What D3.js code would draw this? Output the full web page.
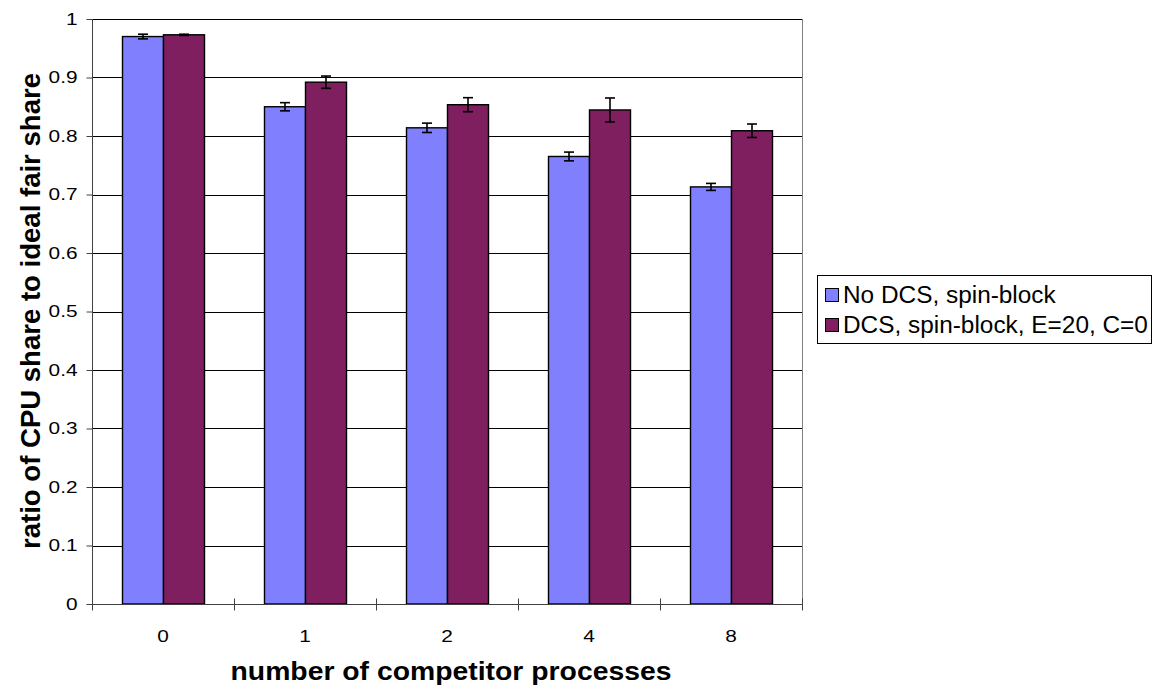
<!DOCTYPE html>
<html><head><meta charset="utf-8">
<script src="https://cdn.jsdelivr.net/npm/d3@7"></script>
<style>
html,body{margin:0;padding:0;background:#fff;}
svg{display:block;font-family:"Liberation Sans",Arial,sans-serif;}
</style></head>
<body>
<svg id="chart" width="1158" height="690"></svg>
<script>
const categories = ["0", "1", "2", "4", "8"];
const seriesNames = ["No DCS, spin-block", "DCS, spin-block, E=20, C=0"];
const noDcs = [0.970, 0.850, 0.814, 0.765, 0.713];
const noDcsErr = [0.004, 0.007, 0.008, 0.0075, 0.006];
const dcs = [0.973, 0.892, 0.8535, 0.8445, 0.809];
const dcsErr = [0.001, 0.0105, 0.012, 0.0205, 0.0115];
const yTicks = [0, 0.1, 0.2, 0.3, 0.4, 0.5, 0.6, 0.7, 0.8, 0.9, 1];
const yTickLabels = ["0", "0.1", "0.2", "0.3", "0.4", "0.5", "0.6", "0.7", "0.8", "0.9", "1"];
const colors = ["#8080ff", "#7f1f5f"];

const svg = d3.select("#chart");
const L = 92, R = 802, T = 19, B = 604;

const x = d3.scaleBand().domain(categories).range([L, R]).paddingInner(0).paddingOuter(0);
const y = d3.scaleLinear().domain([0, 1]).range([B, T]);

function stretch(sel, k) {
  sel.each(function () {
    const len = this.getComputedTextLength();
    d3.select(this).attr("textLength", len * k).attr("lengthAdjust", "spacingAndGlyphs");
  });
}

// gridlines
svg.append("g").selectAll("line").data(yTicks.slice(1)).join("line")
  .attr("x1", L).attr("x2", R)
  .attr("y1", d => Math.round(y(d)) + 0.5).attr("y2", d => Math.round(y(d)) + 0.5)
  .attr("stroke", "#000").attr("stroke-width", 1);

// right border
svg.append("line").attr("x1", R + 0.5).attr("x2", R + 0.5).attr("y1", T).attr("y2", B)
  .attr("stroke", "#808080").attr("stroke-width", 1);

// bars
const series = [
  { vals: noDcs, errs: noDcsErr },
  { vals: dcs, errs: dcsErr }
];
const barW = 41;
series.forEach((s, si) => {
  const g = svg.append("g");
  g.selectAll("rect").data(categories).join("rect")
    .attr("x", (c) => x(c) + x.bandwidth() / 2 - barW + si * barW + 0.5)
    .attr("y", (c, i) => y(s.vals[i]))
    .attr("width", barW)
    .attr("height", (c, i) => y(0) - y(s.vals[i]))
    .attr("fill", colors[si]).attr("stroke", "#000").attr("stroke-width", 1.4);
});
// error bars
series.forEach((s, si) => {
  const g = svg.append("g").attr("stroke", "#000").attr("stroke-width", 1.6).attr("fill", "none");
  categories.forEach((c, i) => {
    const cx = x(c) + x.bandwidth() / 2 - barW / 2 + si * barW + 0.5;
    const y1 = y(s.vals[i] + s.errs[i]), y2 = y(s.vals[i] - s.errs[i]);
    g.append("line").attr("x1", cx).attr("x2", cx).attr("y1", y1).attr("y2", y2);
    g.append("line").attr("x1", cx - 5).attr("x2", cx + 5).attr("y1", y1).attr("y2", y1);
    g.append("line").attr("x1", cx - 5).attr("x2", cx + 5).attr("y1", y2).attr("y2", y2);
  });
});

// y axis
const yAxisG = svg.append("g").attr("transform", `translate(${L + 0.5},0)`)
  .call(d3.axisLeft(y).tickValues(yTicks).tickFormat((d, i) => yTickLabels[i]).tickSize(6).tickPadding(9));
yAxisG.select(".domain").attr("stroke", "#404040").attr("d", `M0,${T}V${B}`);
yAxisG.selectAll(".tick line").attr("stroke", "#404040");
yAxisG.selectAll(".tick text").attr("font-size", 16).attr("fill", "#000")
  .attr("font-family", "Liberation Sans, Arial, sans-serif").call(stretch, 1.3);

// x axis
const xAxisG = svg.append("g").attr("transform", `translate(0,${B + 0.5})`);
xAxisG.append("line").attr("x1", L).attr("x2", R + 1).attr("y1", 0).attr("y2", 0).attr("stroke", "#404040");
const boundaries = categories.map(c => x(c)).concat([R]);
xAxisG.selectAll("line.tk").data(boundaries).join("line").attr("class", "tk")
  .attr("x1", d => Math.round(d) + 0.5).attr("x2", d => Math.round(d) + 0.5)
  .attr("y1", -6).attr("y2", 6).attr("stroke", "#404040");
xAxisG.selectAll("text").data(categories).join("text")
  .attr("x", d => x(d) + x.bandwidth() / 2)
  .attr("y", 37)
  .attr("text-anchor", "middle").attr("font-size", 16).attr("fill", "#000")
  .text(d => d).call(stretch, 1.3);

// axis titles
svg.append("text").attr("x", 451).attr("y", 680).attr("text-anchor", "middle")
  .attr("font-size", 26).attr("font-weight", "bold").text("number of competitor processes")
  .call(stretch, 1.09);
svg.append("text").attr("transform", "translate(40,311) rotate(-90)").attr("text-anchor", "middle")
  .attr("font-size", 27).attr("font-weight", "bold").text("ratio of CPU share to ideal fair share")
  .call(stretch, 1.02);

// legend
const lg = svg.append("g");
lg.append("rect").attr("x", 817.5).attr("y", 275.5).attr("width", 334).attr("height", 68)
  .attr("fill", "#fff").attr("stroke", "#000");
seriesNames.forEach((n, i) => {
  const cy = 295 + i * 30;
  lg.append("rect").attr("x", 825.5).attr("y", cy - 6.5).attr("width", 13).attr("height", 13)
    .attr("fill", colors[i]).attr("stroke", "#000");
  lg.append("text").attr("x", 843).attr("y", cy + 8).attr("font-size", 23).text(n)
    .call(stretch, 1.06);
});
</script>
</body></html>
